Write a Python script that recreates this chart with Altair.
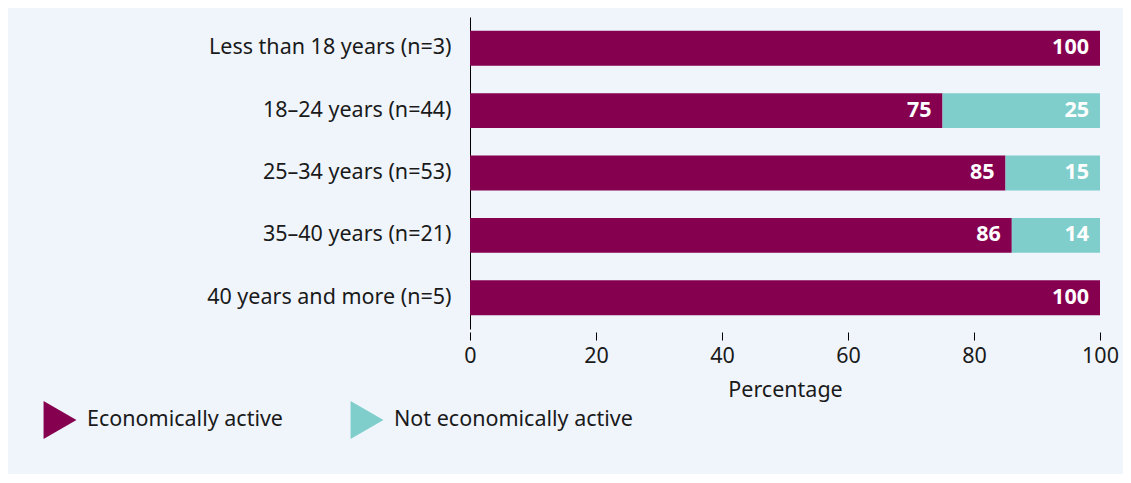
import altair as alt
import pandas as pd

categories = ["Less than 18 years (n=3)", "18–24 years (n=44)", "25–34 years (n=53)",
              "35–40 years (n=21)", "40 years and more (n=5)"]
active = [100, 75, 85, 86, 100]
inactive = [0, 25, 15, 14, 0]
series = ["Economically active", "Not economically active"]
colors = ["#85004F", "#7FCECB"]

rows = []
for c, a, i in zip(categories, active, inactive):
    if a > 0:
        rows.append({"cat": c, "status": series[0], "start": 0, "end": a, "val": a, "ord": 0})
    if i > 0:
        rows.append({"cat": c, "status": series[1], "start": a, "end": a + i, "val": i, "ord": 1})
df = pd.DataFrame(rows)

FONT = "Noto Sans"
FS = 21.5

y_enc = alt.Y("cat:N", sort=categories, title=None,
              scale=alt.Scale(paddingInner=0.44, paddingOuter=0.22),
              axis=alt.Axis(domain=True, domainColor="#000000", domainWidth=1, ticks=False,
                            labelPadding=19, labelFontSize=FS, labelColor="#1a1a1a",
                            labelFont=FONT, labelLimit=600, grid=False))

bars = alt.Chart(df).mark_bar(strokeWidth=0).encode(
    x=alt.X("start:Q", title="Percentage", scale=alt.Scale(domain=[0, 100]),
            axis=alt.Axis(values=[0, 20, 40, 60, 80, 100], domain=False, ticks=True,
                          tickSize=8, tickColor="#000000", offset=3, grid=False,
                          labelFlush=False,
                          labelFontSize=FS, labelColor="#1a1a1a", labelFont=FONT,
                          labelPadding=5, titleFontSize=FS, titleFont=FONT,
                          titleFontWeight="normal", titleColor="#1a1a1a", titlePadding=13)),
    x2="end:Q",
    y=y_enc,
    color=alt.Color("status:N", scale=alt.Scale(domain=series, range=colors),
                    legend=alt.Legend(title=None, orient="none", legendX=-429, legendY=384,
                                      direction="horizontal", symbolType="triangle-right",
                                      symbolSize=1444, symbolStrokeWidth=0,
                                      labelFontSize=FS, labelFont=FONT, labelColor="#1a1a1a",
                                      labelOffset=8, columnPadding=65, labelLimit=600)),
)

labels = alt.Chart(df).mark_text(align="right", baseline="middle", dx=-11, fontSize=FS,
                                 fontWeight="bold", color="white", font=FONT).encode(
    x=alt.X("end:Q"),
    y=alt.Y("cat:N", sort=categories),
    text=alt.Text("val:Q"),
)

chart = (bars + labels).properties(
    width=630, height=312,
    background="#F0F5FC",
    padding={"left": 462, "top": 9, "right": 23, "bottom": 145},
    autosize=alt.AutoSizeParams(type="none"),
).configure_view(stroke=None)

chart.save("out.html", embed_options={"renderer": "svg", "actions": False})
